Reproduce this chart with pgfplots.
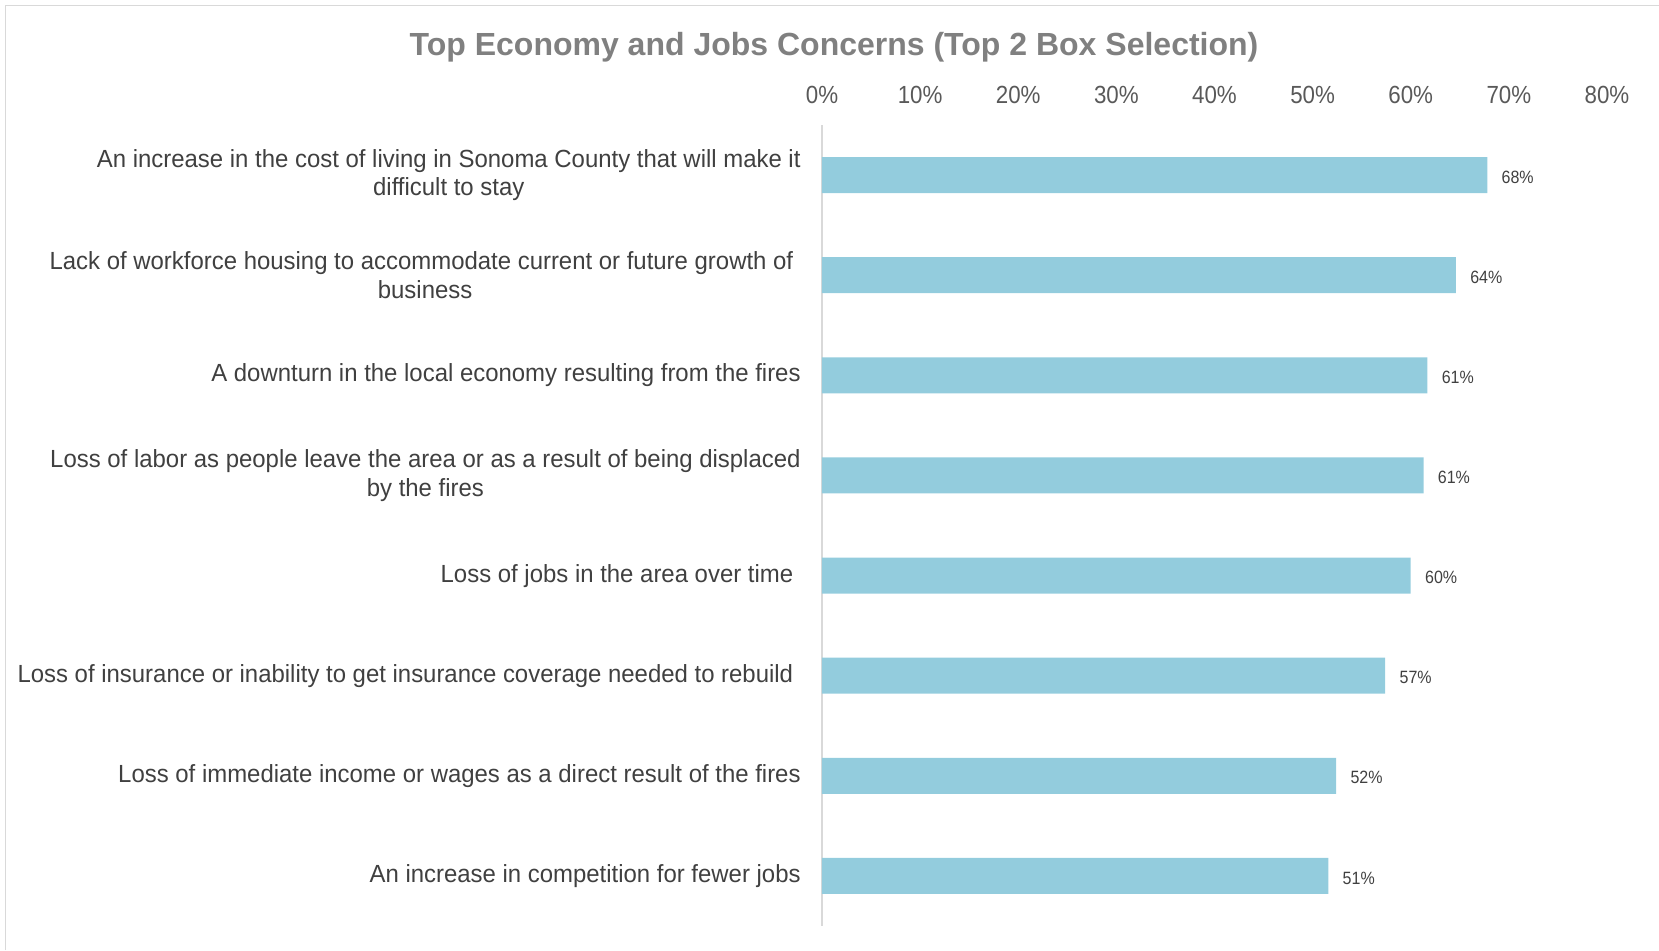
\documentclass[border=0pt]{standalone}
\usepackage{fontspec}
\setmainfont{Liberation Sans}[FakeStretch=0.9]
\newfontfamily\titlefont{Liberation Sans}
\newfontfamily\labfont{Liberation Sans}[FakeStretch=0.965]
\usepackage{pgfplots}
\pgfplotsset{compat=1.18}
\definecolor{barc}{RGB}{147,204,221}
\definecolor{titlec}{RGB}{128,128,128}
\definecolor{labc}{RGB}{64,64,64}
\definecolor{tickc}{RGB}{89,89,89}
\definecolor{framec}{RGB}{217,217,217}
\pgfplotstableread{
y x lab
0 67.8 68
1 64.6 64
2 61.7 61
3 61.3 61
4 60.0 60
5 57.4 57
6 52.4 52
7 51.6 51
}\datatab
\begin{document}
\begin{tikzpicture}
\useasboundingbox (0,0) rectangle (829.5pt,475pt);
\draw[framec, line width=0.8pt] (2.7pt,0) -- (2.7pt,472.3pt) -- (829.5pt,472.3pt);
\node[font=\titlefont\fontsize{16}{19}\selectfont\bfseries, text=titlec] at (417pt,451.2pt) {Top Economy and Jobs Concerns (Top 2 Box Selection)};
\begin{axis}[
  at={(411pt,12pt)}, anchor=south west,
  width=392.5pt, height=400.5pt, scale only axis,
  xbar, bar width=18pt,
  xmin=0, xmax=80, ymin=-0.5, ymax=7.5, y dir=reverse,
  axis y line*=left, axis x line*=top,
  x axis line style={draw=none},
  y axis line style={draw=framec, line width=0.8pt},
  major tick length=0pt, tick style={draw=none},
  /pgf/number format/assume math mode=true,
  xtick={0,10,...,80},
  xticklabel={\pgfmathprintnumber{\tick}\%},
  xticklabel style={font=\fontsize{12.4}{14}\selectfont, text=tickc, anchor=center, inner sep=0pt, yshift=15pt},
  ytick={0,...,7},
  yticklabels={
    {An increase in the cost of living in Sonoma County that will make it\\difficult to stay},
    {Lack of workforce housing to accommodate current or future growth of\hspace*{3.7pt}\\business},
    {A downturn in the local economy resulting from the fires},
    {Loss of labor as people leave the area or as a result of being displaced\\by the fires},
    {Loss of jobs in the area over time\hspace*{3.7pt}},
    {Loss of insurance or inability to get insurance coverage needed to rebuild\hspace*{3.7pt}},
    {Loss of immediate income or wages as a direct result of the fires},
    {An increase in competition for fewer jobs}},
  yticklabel style={font=\labfont\fontsize{12.4}{14.25}\selectfont, text=labc, align=center, anchor=east, inner sep=0pt, xshift=-10.5pt},
  point meta=explicit symbolic,
  nodes near coords={\pgfplotspointmeta\%},
  nodes near coords style={font=\fontsize{8.9}{10}\selectfont, text=labc, anchor=west, inner sep=0pt, xshift=7pt, yshift=-1pt},
]
\addplot[fill=barc, draw=none] table[x=x, y=y, meta=lab] {\datatab};
\end{axis}
\end{tikzpicture}
\end{document}
